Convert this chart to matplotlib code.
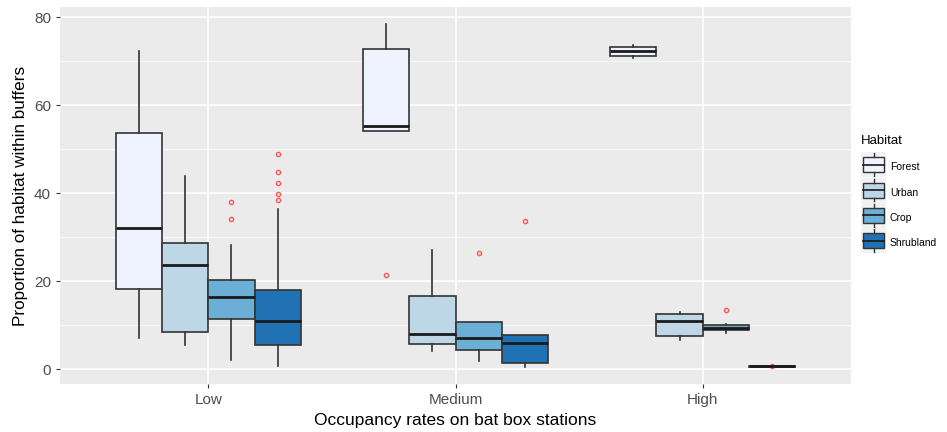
import matplotlib.pyplot as plt
from matplotlib.patches import Rectangle
from matplotlib.lines import Line2D
from matplotlib.legend_handler import HandlerBase

plt.rcParams['font.family'] = ['Liberation Sans', 'DejaVu Sans']

# categories
occupancy = ['Low', 'Medium', 'High']
habitats = ['Forest', 'Urban', 'Crop', 'Shrubland']
colors = ['#EFF3FF', '#BDD7E7', '#6BAED6', '#2171B5']

# box statistics, one list per habitat (Low, Medium, High)
forest_whislo = [7.0, 54.1, 70.7]
forest_q1 = [18.2, 54.1, 71.2]
forest_med = [32.1, 55.3, 72.3]
forest_q3 = [53.6, 72.7, 73.3]
forest_whishi = [72.2, 78.4, 73.7]
forest_fliers = [[], [21.4], []]

urban_whislo = [5.5, 4.2, 6.5]
urban_q1 = [8.4, 5.8, 7.6]
urban_med = [23.7, 8.0, 11.0]
urban_q3 = [28.6, 16.7, 12.4]
urban_whishi = [43.8, 27.1, 12.9]
urban_fliers = [[], [], []]

crop_whislo = [2.0, 1.9, 8.3]
crop_q1 = [11.4, 4.4, 8.8]
crop_med = [16.4, 7.0, 9.3]
crop_q3 = [20.3, 10.7, 10.0]
crop_whishi = [28.1, 10.7, 10.3]
crop_fliers = [[37.9, 34.0], [26.4], [13.5]]

shrub_whislo = [0.75, 0.45, 0.5]
shrub_q1 = [5.4, 1.4, 0.55]
shrub_med = [10.9, 6.0, 0.6]
shrub_q3 = [17.9, 7.7, 0.65]
shrub_whishi = [36.4, 7.7, 0.7]
shrub_fliers = [[48.9, 44.7, 42.3, 39.7, 38.4], [33.7], [0.6]]

series = [
    (forest_whislo, forest_q1, forest_med, forest_q3, forest_whishi, forest_fliers),
    (urban_whislo, urban_q1, urban_med, urban_q3, urban_whishi, urban_fliers),
    (crop_whislo, crop_q1, crop_med, crop_q3, crop_whishi, crop_fliers),
    (shrub_whislo, shrub_q1, shrub_med, shrub_q3, shrub_whishi, shrub_fliers),
]

fig = plt.figure(figsize=(9.47, 4.32), dpi=100)
ax = fig.add_axes([60 / 947, 1 - 384 / 432, (851 - 60) / 947, (384 - 7) / 432])
ax.set_facecolor('#EBEBEB')

dodge = 0.75
bw = dodge / len(habitats)
for h, (lo, q1, med, q3, hi, fl) in enumerate(series):
    stats = []
    for i in range(len(occupancy)):
        stats.append({'whislo': lo[i], 'q1': q1[i], 'med': med[i], 'q3': q3[i],
                      'whishi': hi[i], 'fliers': fl[i]})
    pos = [i - dodge / 2 + bw * (h + 0.5) for i in range(len(occupancy))]
    ax.bxp(stats, positions=pos, widths=bw, patch_artist=True, showcaps=False,
           boxprops=dict(facecolor=colors[h], edgecolor='#333333', linewidth=1.2),
           medianprops=dict(color='#1a1a1a', linewidth=2.0),
           whiskerprops=dict(color='#333333', linewidth=1.2),
           flierprops=dict(marker='o', markersize=3.0, markerfacecolor='none',
                           markeredgecolor='#FF5555', markeredgewidth=1.0),
           zorder=3)

ax.set_xlim(-0.6, 2.6)
ax.set_ylim(-3.4, 82.3)
ax.set_xticks(range(len(occupancy)))
ax.set_xticklabels(occupancy)
ax.set_yticks([0, 20, 40, 60, 80])
ax.set_yticks([10, 30, 50, 70], minor=True)
ax.grid(True, which='major', color='white', linewidth=1.1, zorder=0)
ax.grid(True, which='minor', axis='y', color='white', linewidth=0.5, zorder=0)
ax.set_axisbelow(True)
for s in ax.spines.values():
    s.set_visible(False)
ax.tick_params(axis='both', which='major', length=3, color='#333333',
               labelcolor='#4D4D4D', labelsize=11)
ax.tick_params(axis='y', which='minor', length=0)
ax.set_xlabel('Occupancy rates on bat box stations', fontsize=12.5, color='black', labelpad=4)
ax.set_ylabel('Proportion of habitat within buffers', fontsize=12.3, color='black', labelpad=4)


class BoxKey(HandlerBase):
    def create_artists(self, legend, orig, xd, yd, w, h, fontsize, trans):
        c = orig.get_facecolor()
        cy = yd + 0.5 * h
        bg = Rectangle((xd, cy - 0.5 * w), w, w, facecolor='#F2F2F2',
                       edgecolor='none', transform=trans)
        r = Rectangle((xd + 0.08 * w, cy - 0.3 * w), 0.84 * w, 0.6 * w,
                      facecolor=c, edgecolor='#333333', linewidth=1.0, transform=trans)
        m = Line2D([xd + 0.08 * w, xd + 0.92 * w], [cy, cy],
                   color='#1a1a1a', linewidth=1.2, transform=trans)
        w1 = Line2D([xd + 0.5 * w] * 2, [cy - 0.45 * w, cy - 0.3 * w],
                    color='#333333', linewidth=1.0, transform=trans)
        w2 = Line2D([xd + 0.5 * w] * 2, [cy + 0.3 * w, cy + 0.45 * w],
                    color='#333333', linewidth=1.0, transform=trans)
        return [bg, r, m, w1, w2]


handles = [Rectangle((0, 0), 1, 1, facecolor=c) for c in colors]
leg = fig.legend(handles, habitats, title='Habitat', loc='upper left',
                 bbox_to_anchor=(857 / 947, 1 - 131 / 432), frameon=False,
                 fontsize=7.5, title_fontsize=9.5, handlelength=2.4, handleheight=1.0,
                 labelspacing=1.45, handletextpad=0.35, borderaxespad=0,
                 handler_map={Rectangle: BoxKey()})
leg._legend_box.align = 'left'

fig.savefig('out.png', dpi=100)
